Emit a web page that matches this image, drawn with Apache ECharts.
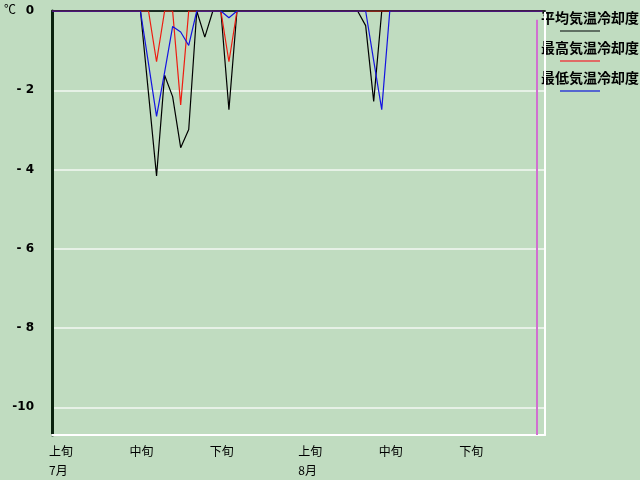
<!DOCTYPE html>
<html>
<head>
<meta charset="utf-8">
<script src="https://cdn.jsdelivr.net/npm/echarts@6/dist/echarts.min.js"></script>
<style>
html,body{margin:0;padding:0;background:#c0dcc0;}
#chart{width:640px;height:480px;}
</style>
</head>
<body>
<div id="chart"></div>
<script>
// Day index 0 = 7月1日 ... 61 = 8月31日
const avgCooling = [
  0,0,0,0,0,0,0,0,0,0,
  0,0,-2.08,-4.16,-1.62,-2.16,-3.45,-2.99,0,-0.66,
  0,0,-2.49,0,0,0,0,0,0,0,
  0,0,0,0,0,0,0,0,0,-0.37,
  -2.28,0,0,0,0,0,0,0,0,0,
  0,0,0,0,0,0,0,0,0,0,
  0,0
];
const maxCooling = [
  0,0,0,0,0,0,0,0,0,0,
  0,0,0,-1.28,0,0,-2.37,0,0,0,
  0,0,-1.28,0,0,0,0,0,0,0,
  0,0,0,0,0,0,0,0,0,0,
  0,0,0,0,0,0,0,0,0,0,
  0,0,0,0,0,0,0,0,0,0,
  0,0
];
const minCooling = [
  0,0,0,0,0,0,0,0,0,0,
  0,0,-1.33,-2.66,-1.55,-0.39,-0.53,-0.87,0,0,
  0,0,-0.17,0,0,0,0,0,0,0,
  0,0,0,0,0,0,0,0,0,0,
  -1.25,-2.49,0,0,0,0,0,0,0,0,
  0,0,0,0,0,0,0,0,0,0,
  0,0
];
const seriesNames = ['平均気温冷却度', '最高気温冷却度', '最低気温冷却度'];
const xTickDays = [0, 10, 20, 31, 41, 51];
const xTickLabels = ['上旬\n7月', '中旬', '下旬', '上旬\n8月', '中旬', '下旬'];
const markerDay = 60.3;
const yMin = -10.7, yMax = 0;
const xMin = 0, xMax = 61.3;

const toPairs = arr => arr.map((v, i) => [i, v]);
const chart = echarts.init(document.getElementById('chart'), null, {renderer: 'canvas'});
const numFont = '"Liberation Sans Narrow", "DejaVu Sans", sans-serif';
const jpFont = '"Noto Sans CJK JP", sans-serif';

const lineColors = ['#000000', '#ee1c10', '#1414e0'];
const legendLineColors = ['#5f6f62', '#e06a66', '#5566d0'];

const graphics = [
  {type: 'text', left: 4, top: 3, style: {text: '℃', font: '12px ' + jpFont, fill: '#000'}}
];
seriesNames.forEach((n, i) => {
  graphics.push({type: 'text', left: 541, top: 11 + i * 30, style: {text: n, font: 'bold 14px ' + jpFont, fill: '#000'}});
  graphics.push({type: 'line', shape: {x1: 560, y1: 31 + i * 30, x2: 600, y2: 31 + i * 30}, style: {stroke: legendLineColors[i], lineWidth: 2}});
});

chart.setOption({
  animation: false,
  backgroundColor: '#c0dcc0',
  grid: {left: 52, top: 11, width: 493, height: 427, containLabel: false},
  xAxis: [{
    type: 'value', min: xMin, max: xMax, position: 'bottom',
    axisLine: {show: true, onZero: false, lineStyle: {color: '#ffffff', width: 2}},
    axisTick: {show: false},
    splitLine: {show: false},
    axisLabel: {
      customValues: xTickDays,
      formatter: v => xTickLabels[xTickDays.indexOf(v)] || '',
      align: 'left', margin: 7, lineHeight: 19,
      color: '#000', fontSize: 12, fontFamily: jpFont,
      padding: [0, 0, 0, -3]
    }
  }, {
    type: 'value', min: xMin, max: xMax, position: 'top',
    axisLine: {show: true, onZero: false, lineStyle: {color: '#1c2c24', width: 2}},
    axisTick: {show: false}, axisLabel: {show: false}, splitLine: {show: false}
  }],
  yAxis: [{
    type: 'value', min: yMin, max: yMax, splitNumber: 5, position: 'left',
    axisLine: {show: true, onZero: false, lineStyle: {color: '#0a220e', width: 3}},
    axisTick: {show: false},
    splitLine: {show: true, lineStyle: {color: 'rgba(255,255,255,0.6)', width: 2}},
    axisLabel: {
      formatter: v => {
        if (Math.abs(v % 2) > 1e-6) return '';
        if (v === 0) return '0';
        const a = Math.abs(v);
        return a >= 10 ? '-' + a : '- ' + a;
      },
      margin: 18, color: '#000', fontSize: 12, fontWeight: 'bold', fontFamily: numFont
    }
  }, {
    type: 'value', min: yMin, max: yMax, position: 'right',
    axisLine: {show: true, onZero: false, lineStyle: {color: '#ffffff', width: 2}},
    axisTick: {show: false}, axisLabel: {show: false}, splitLine: {show: false}
  }],
  graphic: graphics,
  series: [
    {name: seriesNames[0], type: 'line', data: toPairs(avgCooling), symbol: 'none',
     lineStyle: {color: lineColors[0], width: 1.2}, z: 3},
    {name: seriesNames[1], type: 'line', data: toPairs(maxCooling), symbol: 'none',
     lineStyle: {color: lineColors[1], width: 1.2}, z: 4},
    {name: seriesNames[2], type: 'line', data: toPairs(minCooling), symbol: 'none',
     lineStyle: {color: lineColors[2], width: 1.2}, z: 5,
     markLine: {silent: true, symbol: 'none', label: {show: false},
       lineStyle: {color: '#d070d0', width: 2, type: 'solid'},
       data: [[{coord: [markerDay, -0.22]}, {coord: [markerDay, yMin]}]]}}
  ]
});
</script>
</body>
</html>
